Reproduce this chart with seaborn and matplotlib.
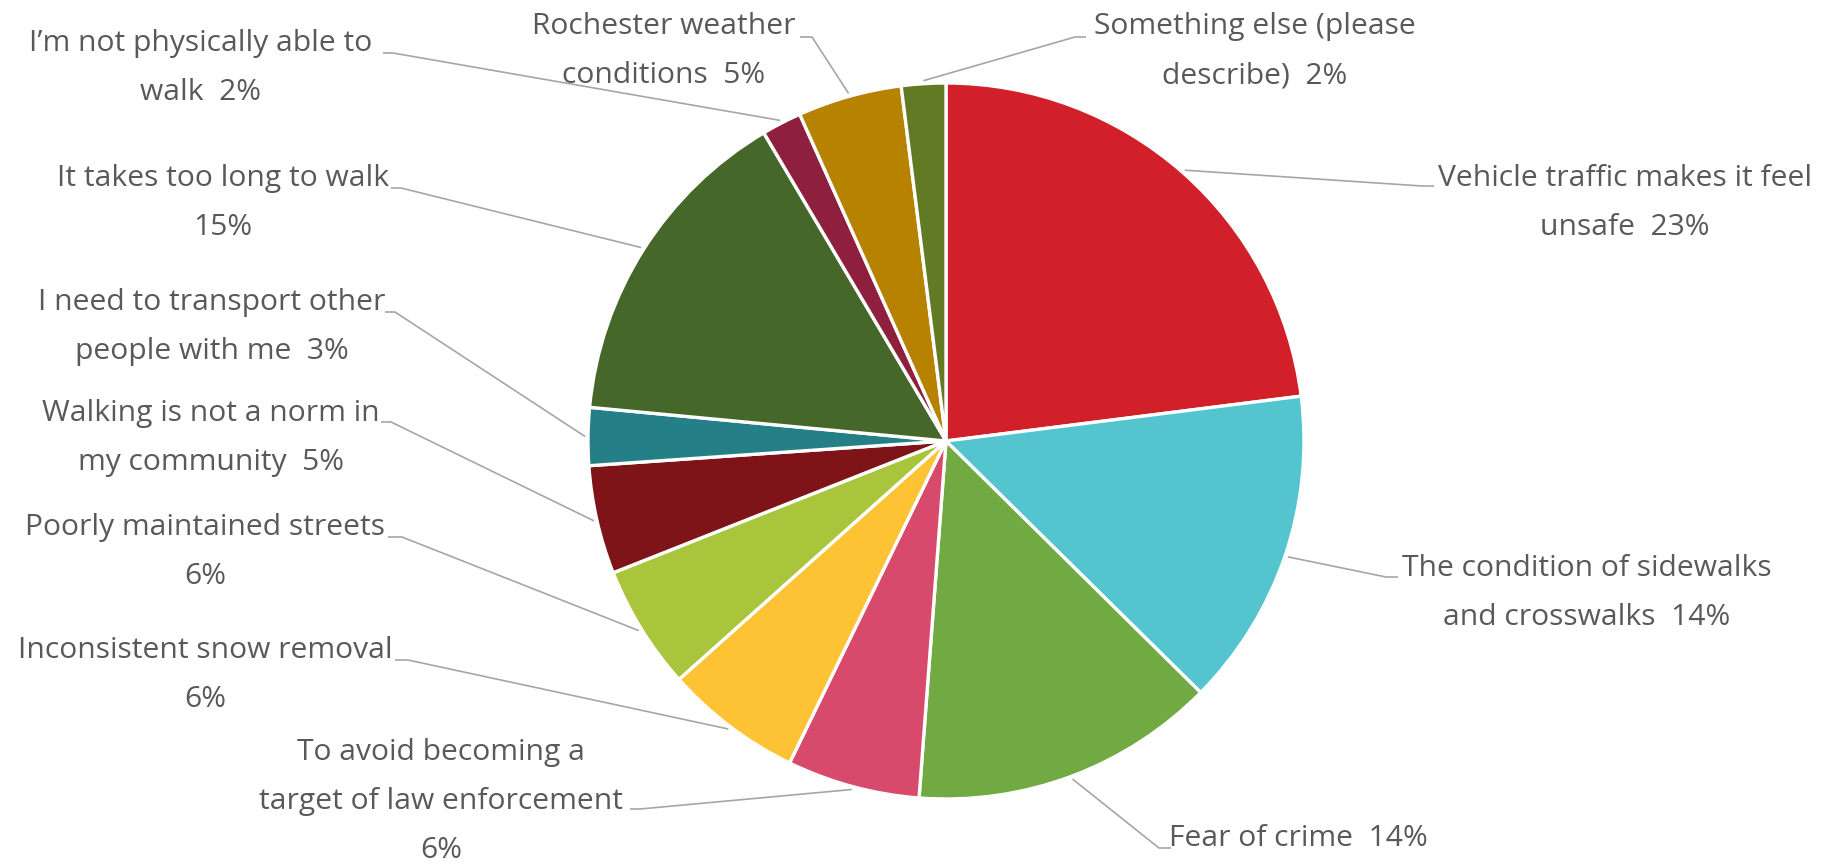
import numpy as np
import matplotlib
matplotlib.use("Agg")
import matplotlib.pyplot as plt
import seaborn as sns

# data (clockwise from 12 o'clock)
reasons = [
    "Vehicle traffic makes it feel\nunsafe",
    "The condition of sidewalks\nand crosswalks",
    "Fear of crime",
    "To avoid becoming a\ntarget of law enforcement",
    "Inconsistent snow removal",
    "Poorly maintained streets",
    "Walking is not a norm in\nmy community",
    "I need to transport other\npeople with me",
    "It takes too long to walk",
    "I\u2019m not physically able to\nwalk",
    "Rochester weather\nconditions",
    "Something else (please\ndescribe)",
]
shares = [23.0, 14.4, 13.8, 6.0, 6.2, 5.6, 4.9, 2.6, 15.0, 1.8, 4.7, 2.0]
pct_sep = ["  ", "  ", "  ", "\n", "\n", "\n", "  ", "  ", "\n", "  ", "  ", "  "]

colors = ["#D12029", "#54C4CF", "#71AA43", "#D84A6C", "#FDC334", "#A8C53B",
          "#7E1318", "#257F87", "#46672A", "#8E1F3D", "#B78200", "#637A24"]

# layout in pixels (top-left origin)
W, H = 1824, 867
PIE_X, PIE_Y, PIE_R = 946, 441, 358
LINE_GAP = 49
# label block centre x, baseline of first line
text_pos = [(1625, 186), (1587, 576), (1298, 846), (441, 760), (205, 658), (205, 535),
            (211, 421), (212, 310), (223, 186), (201, 51), (664, 34), (1255, 34)]
# leader elbow and end (end touches the text)
leader_pts = [((1422, 186), (1434, 186)), ((1386, 577), (1398, 577)),
              ((1159, 848), (1171, 848)), ((640, 809), (630, 809)),
              ((408, 660), (395, 660)), ((402, 537), (388, 537)),
              ((391, 422), (381, 422)), ((395, 312), (385, 312)),
              ((401, 188), (391, 188)), ((393, 53), (383, 53)),
              ((812, 37), (800, 37)), ((1075, 37), (1086, 37))]

sns.set_theme(style="white")
plt.rcParams["font.family"] = ["Open Sans", "DejaVu Sans"]
text_color = "#595959"
line_color = "#A6A6A6"

fig = plt.figure(figsize=(W / 100, H / 100), dpi=100)
ax = fig.add_axes([0, 0, 1, 1])

wedges, _ = ax.pie(shares, colors=colors, startangle=90, counterclock=False,
                   center=(PIE_X, H - PIE_Y), radius=PIE_R,
                   wedgeprops=dict(edgecolor="white", linewidth=2.4))
ax.set_xlim(0, W)
ax.set_ylim(0, H)
ax.set_aspect("equal")
ax.axis("off")

for i, w in enumerate(wedges):
    # leader line from slice middle to label
    mid = np.deg2rad((w.theta1 + w.theta2) / 2)
    sx = PIE_X + (PIE_R + 3) * np.cos(mid)
    sy = (H - PIE_Y) + (PIE_R + 3) * np.sin(mid)
    (ex, ey), (tx, ty) = leader_pts[i]
    ax.plot([sx, ex, tx], [sy, H - ey, H - ty], color=line_color, lw=1.2,
            solid_capstyle="butt", zorder=1)

    label = reasons[i] + pct_sep[i] + f"{round(shares[i]):.0f}%"
    cx, b1 = text_pos[i]
    for k, line in enumerate(label.split("\n")):
        ax.text(cx, H - (b1 + k * LINE_GAP), line, ha="center", va="baseline",
                fontsize=21.6, color=text_color)

fig.savefig("out.png", dpi=100)
